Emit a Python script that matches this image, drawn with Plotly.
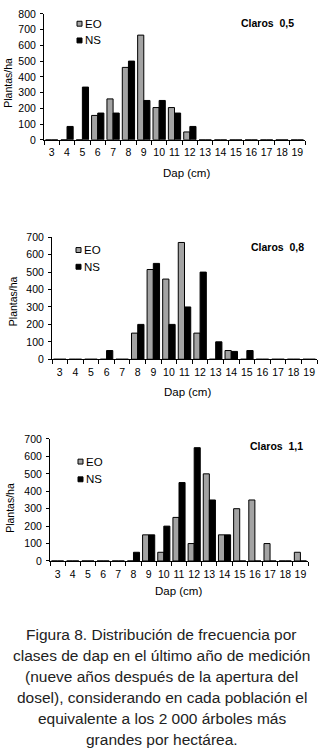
import plotly.graph_objects as go

categories = [str(c) for c in range(3, 20)]

eo_05 = [0, 0, 0, 155, 260, 460, 665, 205, 205, 50, 0, 0, 0, 0, 0, 0, 0]
ns_05 = [0, 85, 335, 170, 170, 500, 250, 250, 170, 85, 0, 0, 0, 0, 0, 0, 0]

eo_08 = [0, 0, 0, 0, 0, 150, 515, 460, 670, 150, 0, 50, 0, 0, 0, 0, 0]
ns_08 = [0, 0, 0, 50, 0, 200, 550, 200, 300, 500, 100, 45, 50, 0, 0, 0, 0]

eo_11 = [0, 0, 0, 0, 0, 0, 150, 50, 250, 100, 500, 150, 300, 350, 100, 0, 50]
ns_11 = [0, 0, 0, 0, 0, 50, 150, 200, 450, 650, 350, 150, 0, 0, 0, 0, 0]

series_names = ["EO", "NS"]
titles = ["Claros  0,5", "Claros  0,8", "Claros  1,1"]
y_max = [800, 700, 700]
y_dtick = 100

caption_lines = [
    "Figura 8. Distribución de frecuencia por",
    "clases de dap en el último año de medición",
    "(nueve años después de la apertura del",
    "dosel), considerando en cada población el",
    "equivalente a los 2 000 árboles más",
    "grandes por hectárea.",
]

W, H = 323, 751
FONT = "Liberation Sans, Arial, sans-serif"
EO_COLOR = "#a3a3a3"
NS_COLOR = "black"

def py(p):
    return 1 - p / H

def px(p):
    return p / W

# panel geometry in pixels: (x0, x1, y_zero, y_top)
panels = [
    (44, 305, 136, 8),
    (52, 317, 359, 235),
    (50, 308, 564, 440),
]
legend_pos = [(77, 18, 35), (76, 248, 265), (78, 463, 481)]
title_pos = [(267, 17), (277, 245), (276, 447)]
ytitle_pos = [(8, 78), (13, 300), (10, 510)]
xtitle_pos = [(186, 170), (187, 392), (178, 595)]

data = [(eo_05, ns_05), (eo_08, ns_08), (eo_11, ns_11)]

fig = go.Figure()
annotations = []
shapes = []
layout = {}
for i, ((eo, ns), (x0, x1, y0, y1)) in enumerate(zip(data, panels)):
    n = i + 1
    xa = "x" if n == 1 else f"x{n}"
    ya = "y" if n == 1 else f"y{n}"
    fig.add_trace(go.Bar(x=categories, y=eo, name=series_names[0], xaxis=xa, yaxis=ya,
                         marker=dict(color=EO_COLOR, line=dict(color="black", width=1)),
                         showlegend=False))
    fig.add_trace(go.Bar(x=categories, y=ns, name=series_names[1], xaxis=xa, yaxis=ya,
                         marker=dict(color=NS_COLOR, line=dict(color="black", width=1)),
                         showlegend=False))
    xkey = "xaxis" if n == 1 else f"xaxis{n}"
    ykey = "yaxis" if n == 1 else f"yaxis{n}"
    layout[xkey] = dict(
        domain=[px(x0), px(x1)], anchor=ya, type="category",
        categoryorder="array", categoryarray=categories,
        showline=True, linecolor="black", linewidth=1,
        ticks="outside", tickson="boundaries", ticklen=4, tickcolor="black",
        tickangle=0, ticklabelstandoff=3,
        tickfont=dict(family=FONT, size=10.5, color="black"),
        showgrid=False, zeroline=False, fixedrange=True,
    )
    layout[ykey] = dict(
        domain=[py(y0), py(y1)], anchor=xa, range=[0, y_max[i]], dtick=y_dtick,
        showline=True, linecolor="black", linewidth=1,
        ticks="outside", ticklen=3, tickcolor="black", ticklabelstandoff=2,
        tickfont=dict(family=FONT, size=10.5, color="black"),
        showgrid=False, zeroline=False, fixedrange=True,
    )
    # legend: small swatches + labels
    lx, ly1, ly2 = legend_pos[i]
    for name, col, ly in ((series_names[0], EO_COLOR, ly1), (series_names[1], NS_COLOR, ly2)):
        shapes.append(dict(type="rect", xref="paper", yref="paper",
                           x0=px(lx), x1=px(lx + 5), y0=py(ly + 2.5), y1=py(ly - 2.5),
                           fillcolor=col, line=dict(color="black", width=1)))
        annotations.append(dict(x=px(lx + 6), y=py(ly), xref="paper", yref="paper",
                                text=name, showarrow=False, xanchor="left", yanchor="middle",
                                font=dict(family=FONT, size=11.5, color="black")))
    tx, ty = title_pos[i]
    annotations.append(dict(x=px(tx), y=py(ty), xref="paper", yref="paper",
                            text=f"<b>{titles[i]}</b>", showarrow=False,
                            xanchor="center", yanchor="middle",
                            font=dict(family=FONT, size=10.5, color="black")))
    ax_, ay_ = ytitle_pos[i]
    annotations.append(dict(x=px(ax_), y=py(ay_), xref="paper", yref="paper",
                            text="Plantas/ha", textangle=-90, showarrow=False,
                            xanchor="center", yanchor="middle",
                            font=dict(family=FONT, size=10.5, color="black")))
    bx, by = xtitle_pos[i]
    annotations.append(dict(x=px(bx), y=py(by), xref="paper", yref="paper",
                            text="Dap (cm)", showarrow=False,
                            xanchor="center", yanchor="middle",
                            font=dict(family=FONT, size=11.5, color="black")))

cap_top = 639
cap_step = 21.3
for k, line in enumerate(caption_lines):
    annotations.append(dict(x=0.5, y=py(cap_top + k * cap_step), xref="paper", yref="paper",
                            text=line, showarrow=False, xanchor="center", yanchor="middle",
                            font=dict(family=FONT, size=15.5, color="#222222")))

fig.update_layout(
    width=W, height=H, margin=dict(l=0, r=0, t=0, b=0),
    paper_bgcolor="white", plot_bgcolor="white",
    barmode="group", bargap=0.2, bargroupgap=0,
    annotations=annotations, shapes=shapes, showlegend=False,
    **layout,
)

fig.write_html("out.html", config={"displayModeBar": False},
               post_script="document.body.style.margin='0';document.body.style.padding='0';")
